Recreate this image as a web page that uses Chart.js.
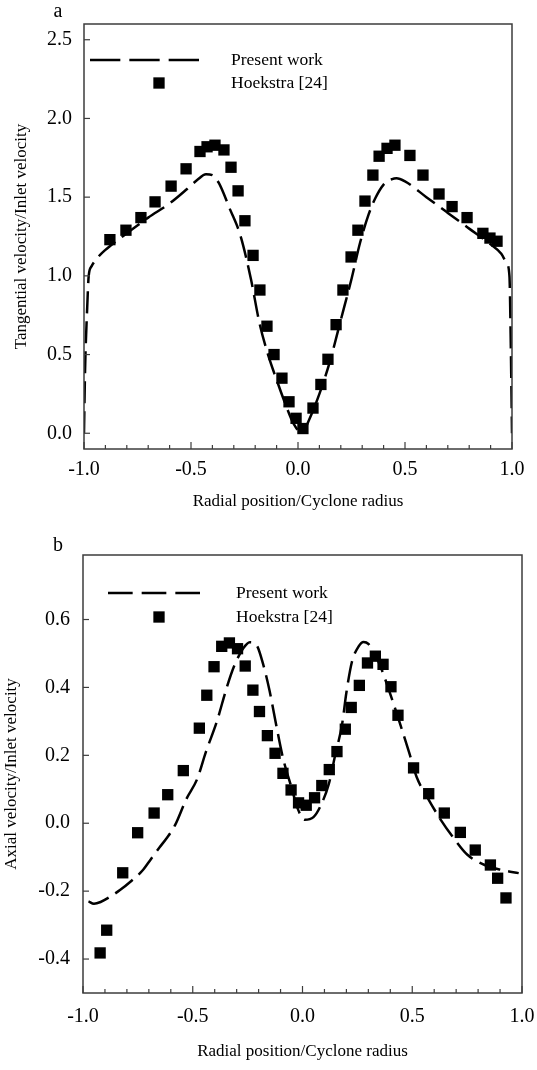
<!DOCTYPE html>
<html>
<head>
<meta charset="utf-8">
<script src="https://cdn.jsdelivr.net/npm/chart.js@4/dist/chart.umd.min.js"></script>
<style>
  html, body { margin: 0; padding: 0; background: #fff; }
  canvas { position: absolute; left: 0; }
</style>
</head>
<body>
<canvas id="tangentialChart" width="537" height="530" style="top:0"></canvas>
<canvas id="axialChart" width="537" height="540" style="top:530px"></canvas>
<script>
// (a) tangential velocity profile
const tangentialModelX = [-1.0, -0.995, -0.985, -0.978, -0.965, -0.94, -0.9, -0.85, -0.8, -0.7, -0.6, -0.52, -0.47, -0.43, -0.4, -0.37, -0.32, -0.27, -0.22, -0.18, -0.14, -0.1, -0.06, -0.02, 0.02, 0.05, 0.1, 0.15, 0.2, 0.25, 0.29, 0.33, 0.36, 0.4, 0.44, 0.46, 0.5, 0.6, 0.7, 0.8, 0.9, 0.95, 0.975, 0.988, 0.995, 1.0];
const tangentialModelY = [0.0, 0.4, 0.8, 1.0, 1.06, 1.11, 1.165, 1.22, 1.27, 1.37, 1.46, 1.55, 1.61, 1.645, 1.64, 1.59, 1.43, 1.26, 0.98, 0.70, 0.50, 0.34, 0.19, 0.06, 0.0, 0.08, 0.25, 0.46, 0.72, 0.98, 1.21, 1.39, 1.49, 1.58, 1.615, 1.62, 1.60, 1.50, 1.40, 1.30, 1.20, 1.14, 1.08, 1.0, 0.5, 0.0];
const tangentialExpX = [-0.879, -0.804, -0.734, -0.668, -0.593, -0.523, -0.458, -0.425, -0.388, -0.346, -0.313, -0.28, -0.248, -0.21, -0.178, -0.145, -0.112, -0.075, -0.042, -0.009, 0.023, 0.07, 0.107, 0.14, 0.178, 0.21, 0.248, 0.28, 0.313, 0.35, 0.379, 0.416, 0.453, 0.523, 0.584, 0.659, 0.72, 0.79, 0.864, 0.897, 0.93];
const tangentialExpY = [1.23, 1.29, 1.37, 1.47, 1.57, 1.68, 1.79, 1.82, 1.83, 1.80, 1.69, 1.54, 1.35, 1.13, 0.91, 0.68, 0.50, 0.35, 0.20, 0.095, 0.03, 0.16, 0.31, 0.47, 0.69, 0.91, 1.12, 1.29, 1.475, 1.64, 1.76, 1.81, 1.83, 1.765, 1.64, 1.52, 1.44, 1.37, 1.27, 1.24, 1.22];
const tangentialYTicks = [0.0, 0.5, 1.0, 1.5, 2.0, 2.5];

// (b) axial velocity profile
const axialModelX = [-0.975, -0.95, -0.92, -0.88, -0.83, -0.78, -0.73, -0.69, -0.65, -0.62, -0.58, -0.53, -0.48, -0.44, -0.39, -0.345, -0.31, -0.27, -0.24, -0.21, -0.18, -0.15, -0.12, -0.09, -0.05, -0.02, 0.01, 0.05, 0.08, 0.12, 0.15, 0.18, 0.2, 0.225, 0.255, 0.278, 0.3, 0.35, 0.4, 0.445, 0.485, 0.52, 0.57, 0.63, 0.69, 0.75, 0.83, 0.91, 0.985];
const axialModelY = [-0.23, -0.237, -0.232, -0.218, -0.196, -0.17, -0.14, -0.105, -0.07, -0.045, -0.005, 0.07, 0.13, 0.21, 0.30, 0.40, 0.465, 0.515, 0.533, 0.525, 0.47, 0.39, 0.29, 0.195, 0.105, 0.04, 0.01, 0.018, 0.048, 0.116, 0.204, 0.29, 0.385, 0.475, 0.52, 0.534, 0.528, 0.47, 0.38, 0.292, 0.21, 0.136, 0.075, 0.01, -0.045, -0.092, -0.123, -0.138, -0.147];
const axialExpX = [-0.922, -0.892, -0.819, -0.751, -0.676, -0.614, -0.543, -0.47, -0.436, -0.403, -0.368, -0.333, -0.296, -0.261, -0.226, -0.196, -0.16, -0.125, -0.089, -0.052, -0.018, 0.017, 0.055, 0.088, 0.122, 0.157, 0.195, 0.222, 0.259, 0.296, 0.332, 0.367, 0.403, 0.435, 0.506, 0.575, 0.646, 0.719, 0.787, 0.856, 0.889, 0.927];
const axialExpY = [-0.382, -0.315, -0.146, -0.028, 0.03, 0.084, 0.155, 0.28, 0.377, 0.461, 0.521, 0.531, 0.514, 0.463, 0.392, 0.329, 0.258, 0.206, 0.147, 0.098, 0.06, 0.053, 0.075, 0.111, 0.158, 0.211, 0.277, 0.341, 0.406, 0.472, 0.492, 0.468, 0.402, 0.318, 0.163, 0.087, 0.03, -0.027, -0.079, -0.123, -0.162, -0.22];
const axialYTicks = [-0.4, -0.2, 0.0, 0.2, 0.4, 0.6];

const radialTicks = [-1.0, -0.5, 0.0, 0.5, 1.0];
const seriesNames = ['Present work', 'Hoekstra [24]'];

const SERIF = "'Liberation Serif', 'Times New Roman', serif";

function zip(xs, ys) {
    return xs.map((x, i) => ({ x: x, y: ys[i] }));
}

// frame, inward ticks, legend and panel letter
const figurePlugin = {
    id: 'figure',
    afterDatasetsDraw(chart, args, opts) {
        const { ctx, chartArea: a, scales } = chart;
        const x = scales.x, y = scales.y;
        ctx.save();
        ctx.strokeStyle = '#3c3c3c';
        ctx.lineWidth = 1.5;
        ctx.strokeRect(a.left, a.top, a.right - a.left, a.bottom - a.top);

        ctx.lineWidth = 1.2;
        for (let i = -10; i <= 10; i++) {
            const px = x.getPixelForValue(i / 10);
            const len = i % 5 === 0 ? 7 : 4;
            ctx.beginPath();
            ctx.moveTo(px, a.bottom);
            ctx.lineTo(px, a.bottom - len);
            ctx.stroke();
        }
        y.ticks.forEach(t => {
            const py = y.getPixelForValue(t.value);
            ctx.beginPath();
            ctx.moveTo(a.left, py);
            ctx.lineTo(a.left + 6, py);
            ctx.stroke();
        });

        // legend: three dashes + one square
        const lg = opts.legend;
        const line = chart.data.datasets[0];
        const pts = chart.data.datasets[1];
        const gap = 9;
        const dash = (lg.x1 - lg.x0 - 2 * gap) / 3;
        ctx.strokeStyle = line.borderColor;
        ctx.lineWidth = line.borderWidth;
        ctx.setLineDash([dash, gap]);
        ctx.beginPath();
        ctx.moveTo(lg.x0, lg.y0);
        ctx.lineTo(lg.x1, lg.y0);
        ctx.stroke();
        ctx.setLineDash([]);
        const half = pts.pointRadius * Math.SQRT1_2;
        ctx.fillStyle = pts.backgroundColor;
        ctx.fillRect(lg.sx - half, lg.y1 - half, 2 * half, 2 * half);

        ctx.fillStyle = '#000';
        ctx.font = '17.5px ' + SERIF;
        ctx.textAlign = 'left';
        ctx.textBaseline = 'middle';
        ctx.fillText(line.label, lg.tx, lg.y0);
        ctx.fillText(pts.label, lg.tx, lg.y1);

        ctx.font = '20px ' + SERIF;
        ctx.textAlign = 'center';
        ctx.fillText(opts.letter, opts.letterX, opts.letterY);
        ctx.restore();
    }
};

function makeChart(id, cfg) {
    return new Chart(document.getElementById(id), {
        type: 'scatter',
        data: {
            datasets: [{
                label: seriesNames[0],
                data: zip(cfg.modelX, cfg.modelY),
                showLine: true,
                borderColor: '#000',
                borderWidth: 2.5,
                borderDash: [22, 8],
                pointRadius: 0,
                cubicInterpolationMode: 'monotone'
            }, {
                label: seriesNames[1],
                data: zip(cfg.expX, cfg.expY),
                showLine: false,
                pointStyle: 'rect',
                pointRadius: 8,
                pointHoverRadius: 8,
                backgroundColor: '#000',
                borderWidth: 0
            }]
        },
        options: {
            responsive: false,
            animation: false,
            layout: { padding: cfg.padding },
            plugins: {
                legend: { display: false },
                tooltip: { enabled: false },
                figure: cfg.figure
            },
            scales: {
                x: {
                    type: 'linear',
                    min: -1,
                    max: 1,
                    grid: { display: false, drawTicks: false },
                    border: { display: false },
                    afterBuildTicks: s => { s.ticks = radialTicks.map(v => ({ value: v })); },
                    afterFit: s => {
                        s.height = cfg.xAxisHeight;
                        s.paddingLeft = 0;
                        s.paddingRight = 0;
                    },
                    ticks: {
                        autoSkip: false,
                        maxRotation: 0,
                        padding: cfg.xTickPad,
                        color: '#000',
                        font: { family: SERIF, size: 20 },
                        callback: v => Number(v).toFixed(1)
                    },
                    title: {
                        display: true,
                        text: 'Radial position/Cyclone radius',
                        color: '#000',
                        font: { family: SERIF, size: 17 },
                        padding: { top: 0, bottom: cfg.xTitlePad }
                    }
                },
                y: {
                    min: cfg.yMin,
                    max: cfg.yMax,
                    grid: { display: false, drawTicks: false },
                    border: { display: false },
                    afterBuildTicks: s => { s.ticks = cfg.yTicks.map(v => ({ value: v })); },
                    afterFit: s => { s.width = cfg.yAxisWidth; },
                    ticks: {
                        padding: cfg.yTickPad,
                        color: '#000',
                        font: { family: SERIF, size: 20 },
                        callback: v => Number(v).toFixed(1)
                    },
                    title: {
                        display: true,
                        text: cfg.yTitle,
                        color: '#000',
                        font: { family: SERIF, size: 17 },
                        padding: { top: cfg.yTitlePad, bottom: 0 }
                    }
                }
            }
        },
        plugins: [figurePlugin]
    });
}

document.addEventListener('DOMContentLoaded', function() {
    // Tangential velocity chart
    makeChart('tangentialChart', {
        modelX: tangentialModelX, modelY: tangentialModelY,
        expX: tangentialExpX, expY: tangentialExpY,
        yTicks: tangentialYTicks, yMin: -0.1, yMax: 2.6,
        yTitle: 'Tangential velocity/Inlet velocity',
        padding: { left: 0, top: 21, right: 25, bottom: 0 },
        yAxisWidth: 84, xAxisHeight: 81,
        xTickPad: 9, yTickPad: 12, xTitlePad: 18, yTitlePad: 11,
        figure: {
            letter: 'a', letterX: 58, letterY: 12,
            legend: { x0: 90, x1: 199, y0: 60, sx: 159, y1: 83, tx: 231 }
        }
    });

    // Axial velocity chart
    makeChart('axialChart', {
        modelX: axialModelX, modelY: axialModelY,
        expX: axialExpX, expY: axialExpY,
        yTicks: axialYTicks, yMin: -0.5, yMax: 0.79,
        yTitle: 'Axial velocity/Inlet velocity',
        padding: { left: 0, top: 23, right: 15, bottom: 0 },
        yAxisWidth: 83, xAxisHeight: 77,
        xTickPad: 12, yTickPad: 13, xTitlePad: 8, yTitlePad: 1,
        figure: {
            letter: 'b', letterX: 58, letterY: 16,
            legend: { x0: 108, x1: 200, y0: 63, sx: 159, y1: 87, tx: 236 }
        }
    });
});
</script>
</body>
</html>
